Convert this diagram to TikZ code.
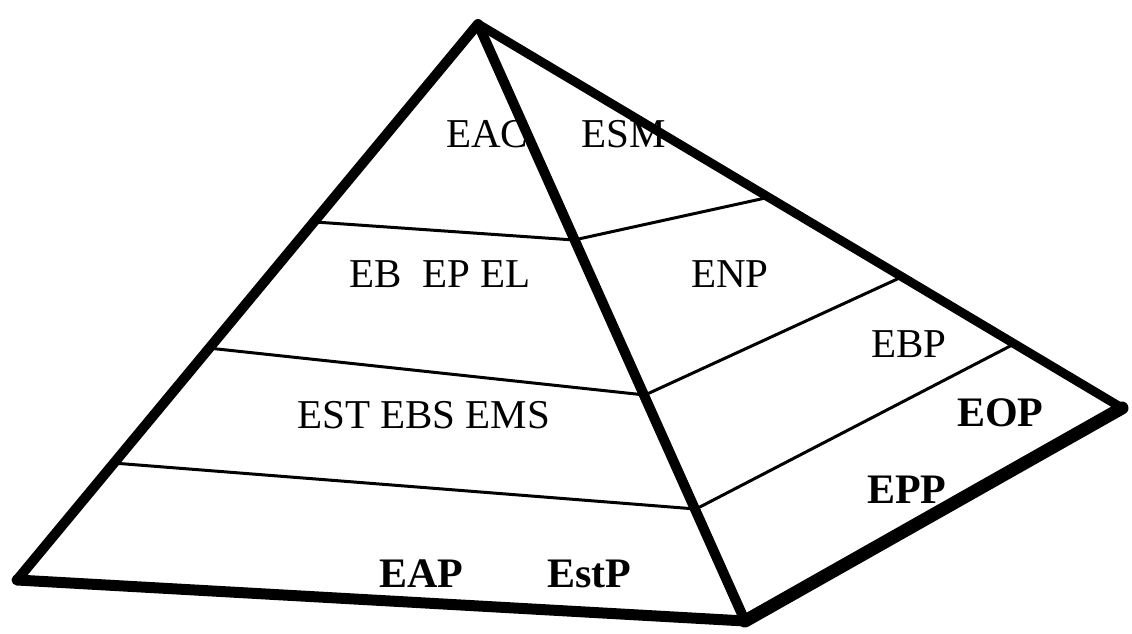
\documentclass[tikz,border=0pt]{standalone}
\usepackage{fontspec}
\setmainfont{Liberation Serif}
\begin{document}
\begin{tikzpicture}[x=1pt,y=-1pt,
  edge/.style={line width=10pt,line cap=round,line join=round},
  band/.style={line width=3pt,line join=round},
  lbl/.style={anchor=base west,inner sep=0pt,font=\fontsize{41}{42}\selectfont},
  blbl/.style={lbl,font=\fontsize{42}{43}\selectfont\bfseries}]
\useasboundingbox (0,0) rectangle (1132,634);
% corners
\coordinate (A) at (478,24);
\coordinate (BL) at (17,580);
\coordinate (BF) at (745,621);
\coordinate (R) at (1122,408);
% band lines
\coordinate (L1) at (315,222); \coordinate (C1) at (574,240); \coordinate (R1) at (770,197);
\coordinate (L2) at (208,348); \coordinate (C2) at (645,395); \coordinate (R2) at (906,275);
\coordinate (L3) at (113,463); \coordinate (C3) at (696,509); \coordinate (R3) at (1016,343);
\draw[band] (L1) -- (C1) -- (R1);
\draw[band] (L2) -- (C2) -- (R2);
\draw[band] (L3) -- (C3) -- (R3);
% thick edges
\draw[edge] (BL) -- (A) -- (BF);
\draw[edge,line width=9pt] (A) -- (R);
\draw[edge,line width=11pt] (BL) -- (BF);
\draw[edge,line width=13pt] (BF) -- (R);
% labels
\node[lbl] (eac) at (446,147) {EAC};
\node[lbl] (esm) at (581,147) {ESM};
\node[lbl] (ebepel) at (349,287) {EB\ \ EP EL};
\node[lbl] (enp) at (691,287) {ENP};
\node[lbl] (est) at (297,428) {EST EBS EMS};
\node[lbl] (ebp) at (871,357) {EBP};
\node[blbl] (eop) at (957,426) {EOP};
\node[blbl] (epp) at (867,503) {EPP};
\node[blbl] (eap) at (379,587) {EAP};
\node[blbl] (estp) at (547,587) {EstP};
\end{tikzpicture}
\end{document}
